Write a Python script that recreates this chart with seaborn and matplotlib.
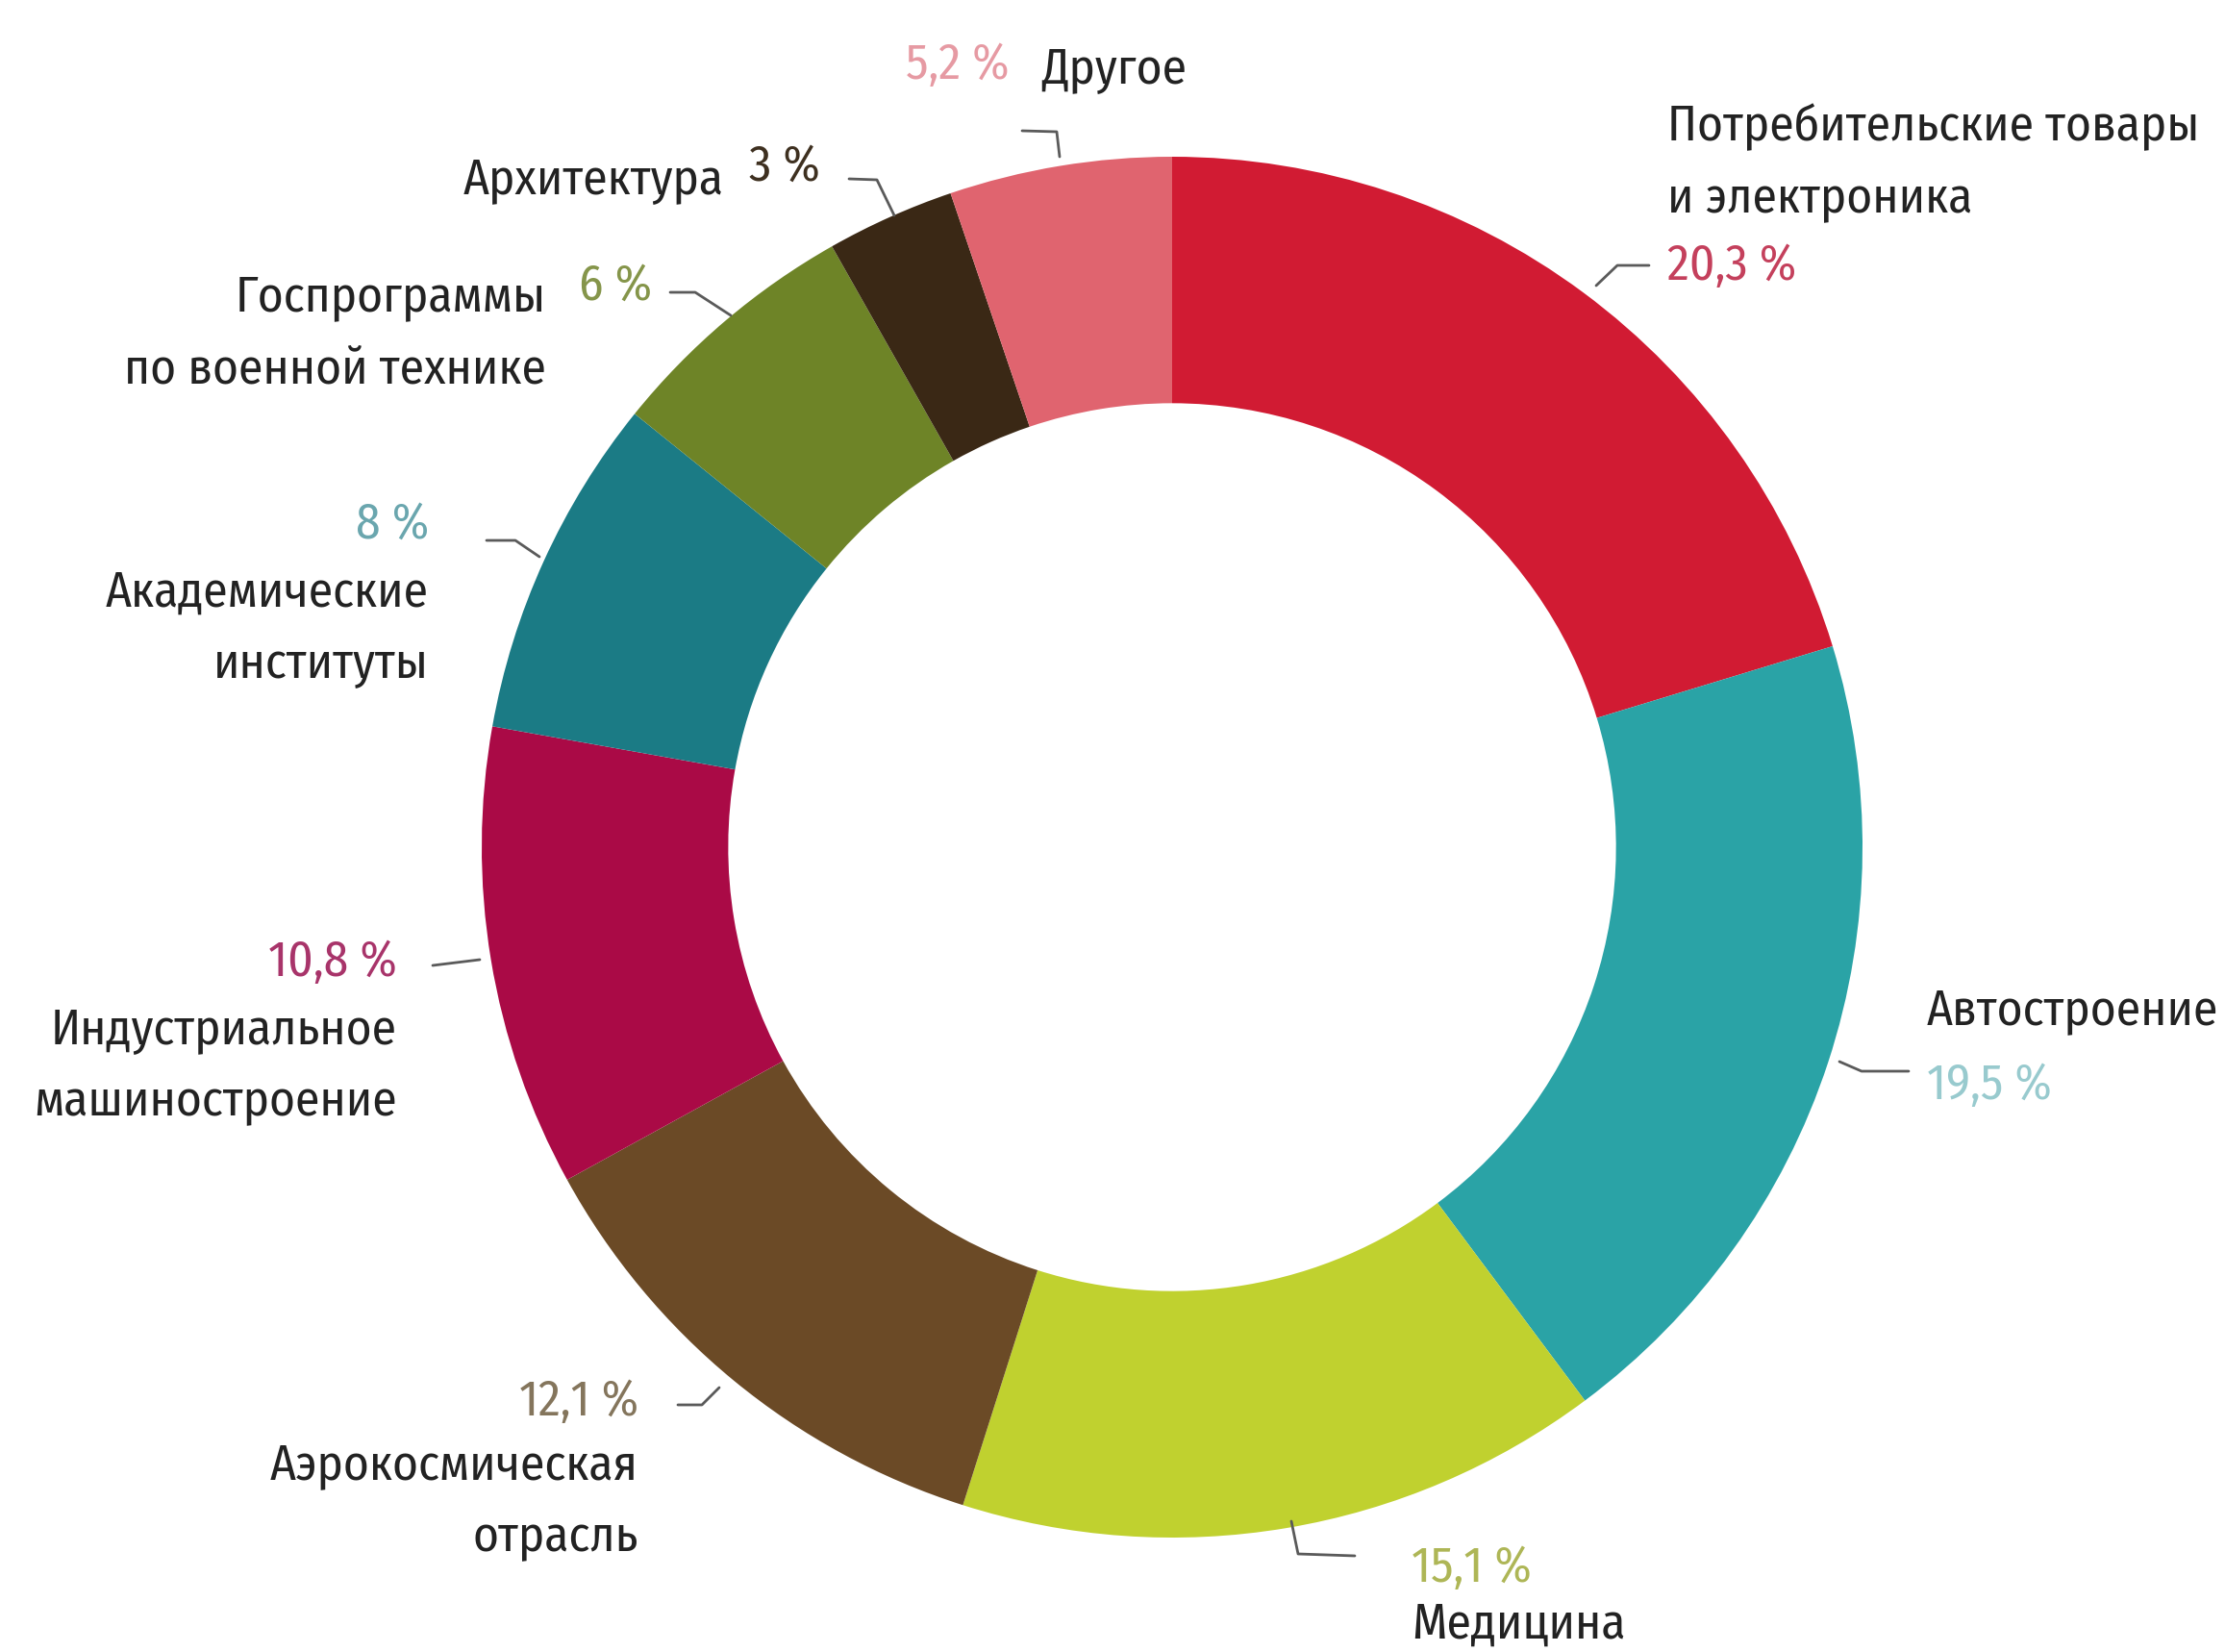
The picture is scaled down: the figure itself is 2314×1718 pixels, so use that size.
import matplotlib
matplotlib.use("Agg")
import matplotlib.pyplot as plt
import seaborn as sns

# Market share by application sector, clockwise from the top
sectors = [
    "Потребительские товары\nи электроника",
    "Автостроение",
    "Медицина",
    "Аэрокосмическая\nотрасль",
    "Индустриальное\nмашиностроение",
    "Академические\nинституты",
    "Госпрограммы\nпо военной технике",
    "Архитектура",
    "Другое",
]
shares = [20.3, 19.5, 15.1, 12.1, 10.8, 8.0, 6.0, 3.0, 5.2]
pct_labels = ["20,3 %", "19,5 %", "15,1 %", "12,1 %", "10,8 %", "8 %", "6 %", "3 %", "5,2 %"]

slice_colors = ["#D11B33", "#2AA3A6", "#C0D12F", "#6B4A26", "#AA0A46",
                "#1B7B85", "#6E8427", "#3A2815", "#E0646F"]
pct_colors = ["#C4405C", "#98CACE", "#AEB656", "#84755C", "#A8346A",
              "#6AA6AE", "#85954A", "#3E3020", "#E69AA3"]

W, H = 2314, 1718

sns.set_theme(style="white")
plt.rcParams["font.family"] = ["Fira Sans Condensed", "Roboto Condensed", "DejaVu Sans"]

fig = plt.figure(figsize=(W / 100, H / 100), dpi=100)
ax = fig.add_axes([0, 0, 1, 1])


def Y(y):
    return H - y


cx, cy, R = 1219, 881, 718
ax.pie(shares, colors=sns.color_palette(slice_colors), startangle=90,
       counterclock=False, center=(cx, Y(cy)), radius=R,
       wedgeprops=dict(width=R * 0.357, linewidth=0), frame=True)
ax.set_xlim(0, W)
ax.set_ylim(0, H)
ax.set_aspect("equal")
ax.axis("off")

FS = 37
TXT = "#222222"

# label layout: (name x, name y, name align, pct x, pct y, pct align, leader path)
layout = [
    (1734, 170, "left", 1734, 277, "left", [(1715, 276), (1682, 276), (1660, 297)]),
    (2004, 1051, "left", 2004, 1129, "left", [(1913, 1104), (1936, 1114), (1985, 1114)]),
    (1468, 1690, "left", 1468, 1631, "left", [(1343, 1582), (1350, 1616), (1409, 1618)]),
    (664, 1562, "right", 664, 1458, "right", [(705, 1461), (730, 1461), (748, 1443)]),
    (413, 1109, "right", 413, 1001, "right", [(450, 1004), (499, 998)]),
    (446, 654, "right", 446, 546, "right", [(506, 562), (536, 562), (561, 579)]),
    (568, 347, "right", 602, 298, "left", [(697, 304), (723, 304), (760, 328)]),
    (753, 187, "right", 779, 174, "left", [(883, 186), (912, 187), (930, 224)]),
    (1083, 72, "left", 1050, 68, "right", [(1063, 136), (1099, 137), (1102, 163)]),
]

for name, pct, pc, (nx, ny, nha, px, py, pha, path) in zip(sectors, pct_labels, pct_colors, layout):
    ax.text(nx, Y(ny), name, ha=nha, va="center", fontsize=FS, color=TXT,
            linespacing=1.65)
    ax.text(px, Y(py), pct, ha=pha, va="center", fontsize=FS, color=pc)
    xs = [p[0] for p in path]
    ys = [Y(p[1]) for p in path]
    ax.plot(xs, ys, color="#5A5A5A", lw=2)

fig.savefig("out.png", dpi=100, facecolor="white")
